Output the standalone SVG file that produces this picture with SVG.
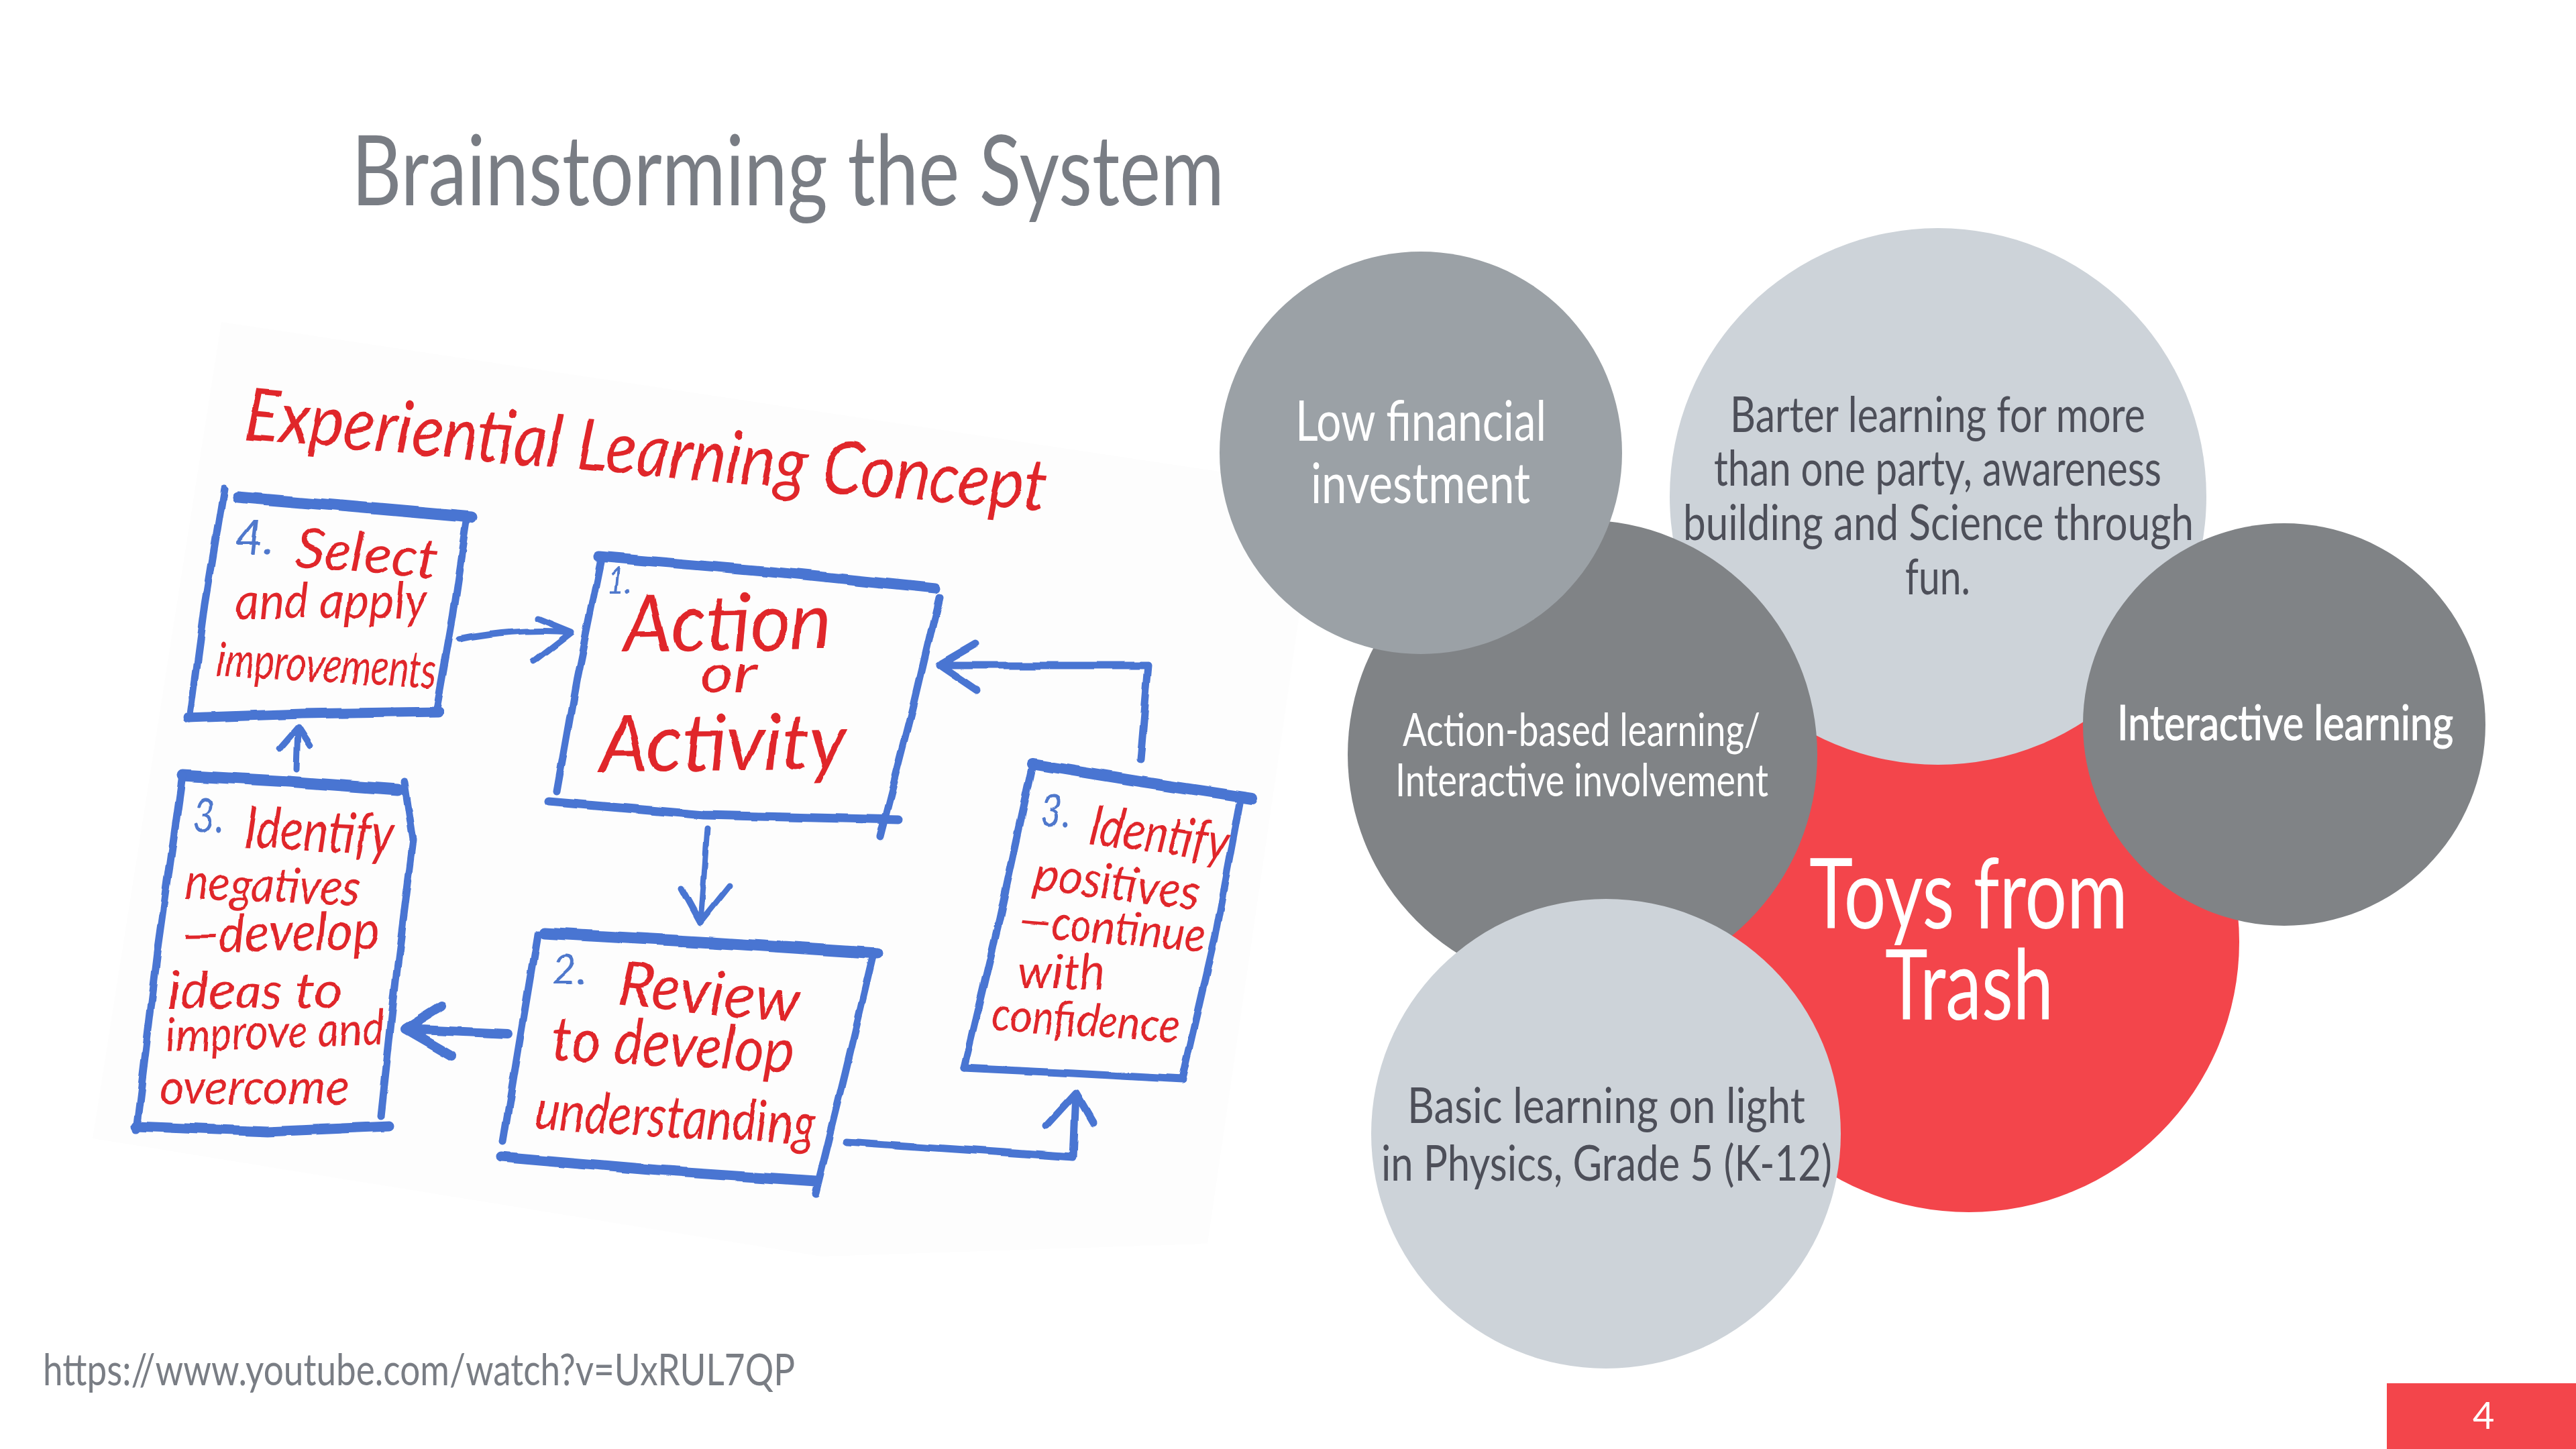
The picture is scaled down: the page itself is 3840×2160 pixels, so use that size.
<svg xmlns="http://www.w3.org/2000/svg" width="3840" height="2160" viewBox="0 0 3840 2160">
<style>
.t{font-family:"Lato","Open Sans","Liberation Sans",sans-serif}
.w{fill:#fff}.d{fill:#4d4f59}
.h{font-family:"Lato","Liberation Sans",sans-serif;font-style:italic;fill:#e0282c}
.n{font-family:"Lato","Liberation Sans",sans-serif;font-style:italic;fill:#4f78cc}
.b{fill:none;stroke:#4a74d2;stroke-linecap:round;stroke-linejoin:round;stroke-width:11}
.c{fill:none;stroke:#4a74d2;stroke-linecap:round;stroke-linejoin:round;stroke-width:9}
</style>
<defs>
<filter id="ink" x="-5%" y="-5%" width="110%" height="110%"><feTurbulence type="fractalNoise" baseFrequency="0.018" numOctaves="2" seed="4"/><feDisplacementMap in="SourceGraphic" scale="7" xChannelSelector="R" yChannelSelector="G"/></filter>
</defs>
<rect width="3840" height="2160" fill="#fff"/>
<text class="t" x="524" y="306" font-size="146" fill="#797d84" textLength="1301" lengthAdjust="spacingAndGlyphs">Brainstorming the System</text>
<polygon points="330,480 1965,725 1800,1854 1225,1873 138,1697" fill="#fdfdfd"/>
<g id="sketch-title" filter="url(#ink)"><text class="h" transform="translate(362 654) rotate(5.2)" font-size="108" textLength="1200" lengthAdjust="spacingAndGlyphs">Experiential Learning Concept</text></g>
<g id="box-select" filter="url(#ink)">
<path class="b" d="M334 728L306 900L283 1072"/><path class="b" style="stroke-width:17" d="M355 741L520 755L703 771"/><path class="b" d="M697 771L675 920L650 1062"/><path class="b" style="stroke-width:15" d="M281 1070L450 1064L654 1061"/>
<text class="n" x="350" y="827" font-size="72">4.</text>
<text class="h" transform="translate(439 844) rotate(5)" font-size="82" textLength="212" lengthAdjust="spacingAndGlyphs">Select</text>
<text class="h" x="350" y="922" font-size="76" textLength="287" lengthAdjust="spacingAndGlyphs">and apply</text>
<text class="h" transform="translate(321 1008) rotate(3)" font-size="74" textLength="330" lengthAdjust="spacingAndGlyphs">improvements</text>
</g>
<g id="box-action" filter="url(#ink)">
<path class="b" style="stroke-width:15" d="M892 830L1150 852L1394 877"/><path class="b" d="M1400 890L1360 1060L1312 1247"/><path class="b" style="stroke-width:13" d="M818 1195L1050 1215L1339 1222"/><path class="b" d="M895 838L860 1010L830 1180"/>
<text class="n" x="904" y="884" font-size="54" textLength="37" lengthAdjust="spacingAndGlyphs">1.</text>
<text class="h" transform="translate(930 972) rotate(-1)" font-size="118" textLength="310" lengthAdjust="spacingAndGlyphs">Action</text>
<text class="h" x="1045" y="1032" font-size="84" textLength="82" lengthAdjust="spacingAndGlyphs">or</text>
<text class="h" transform="translate(894 1150) rotate(-0.5)" font-size="118" textLength="368" lengthAdjust="spacingAndGlyphs">Activity</text>
</g>
<g id="box-review" filter="url(#ink)">
<path class="b" style="stroke-width:17" d="M811 1391L1060 1405L1308 1421"/><path class="b" d="M801 1393L775 1550L750 1702"/><path class="b" d="M1301 1427L1260 1600L1216 1779"/><path class="b" style="stroke-width:15" d="M748 1725L980 1745L1216 1761"/>
<text class="n" x="822" y="1467" font-size="62" textLength="54" lengthAdjust="spacingAndGlyphs">2.</text>
<text class="h" transform="translate(918 1497) rotate(6)" font-size="92" textLength="272" lengthAdjust="spacingAndGlyphs">Review</text>
<text class="h" transform="translate(822 1580) rotate(3)" font-size="92" textLength="360" lengthAdjust="spacingAndGlyphs">to develop</text>
<text class="h" transform="translate(796 1684) rotate(3)" font-size="86" textLength="418" lengthAdjust="spacingAndGlyphs">understanding</text>
</g>
<g id="box-negatives" filter="url(#ink)">
<path class="b" style="stroke-width:17" d="M272 1156L430 1165L593 1177"/><path class="b" d="M272 1156L235 1420L203 1684"/><path class="b" d="M603 1166L616 1253L590 1460L568 1664"/><path class="b" style="stroke-width:15" d="M203 1679L398 1687L581 1679"/>
<text class="n" x="287" y="1240" font-size="72" textLength="46" lengthAdjust="spacingAndGlyphs">3.</text>
<text class="h" transform="translate(363 1263) rotate(3)" font-size="86" textLength="222" lengthAdjust="spacingAndGlyphs">Identify</text>
<text class="h" transform="translate(275 1340) rotate(2)" font-size="72" textLength="260" lengthAdjust="spacingAndGlyphs">negatives</text>
<text class="h" transform="translate(272 1420) rotate(-1)" font-size="80" textLength="294" lengthAdjust="spacingAndGlyphs">—develop</text>
<text class="h" x="250" y="1503" font-size="76" textLength="259" lengthAdjust="spacingAndGlyphs">ideas to</text>
<text class="h" transform="translate(249 1568) rotate(-2)" font-size="72" textLength="325" lengthAdjust="spacingAndGlyphs">improve and</text>
<text class="h" x="237" y="1646" font-size="72" textLength="283" lengthAdjust="spacingAndGlyphs">overcome</text>
</g>
<g id="box-positives" filter="url(#ink)">
<path class="b" style="stroke-width:16" d="M1539 1139L1700 1165L1867 1190"/><path class="b" d="M1539 1145L1490 1370L1437 1592"/><path class="b" d="M1848 1196L1810 1400L1763 1604"/><path class="b" d="M1437 1592L1600 1600L1763 1609"/>
<text class="n" x="1551" y="1231" font-size="64" textLength="46" lengthAdjust="spacingAndGlyphs">3.</text>
<text class="h" transform="translate(1621 1256) rotate(8)" font-size="80" textLength="208" lengthAdjust="spacingAndGlyphs">Identify</text>
<text class="h" transform="translate(1539 1326) rotate(7)" font-size="72" textLength="248" lengthAdjust="spacingAndGlyphs">positives</text>
<text class="h" transform="translate(1518 1395) rotate(5)" font-size="70" textLength="278" lengthAdjust="spacingAndGlyphs">—continue</text>
<text class="h" x="1518" y="1474" font-size="72" textLength="128" lengthAdjust="spacingAndGlyphs">with</text>
<text class="h" transform="translate(1477 1535) rotate(4)" font-size="70" textLength="280" lengthAdjust="spacingAndGlyphs">confidence</text>
</g>
<g id="connectors" filter="url(#ink)">
<path class="c" d="M685 953Q770 936 852 942M803 922L852 942L795 986"/>
<path class="c" d="M442 1146L444 1085M417 1116L444 1085L462 1113"/>
<path class="c" d="M1700 1132L1712 992L1400 992M1455 960L1400 992L1456 1030" style="stroke-width:11"/>
<path class="c" d="M1054 1235L1044 1375M1016 1324L1044 1375L1088 1320"/>
<path class="c" d="M757 1541L604 1534M658 1500L604 1534L673 1574" style="stroke-width:14"/>
<path class="c" d="M1261 1702L1600 1725L1604 1630M1560 1678L1604 1630L1629 1673" style="stroke-width:11"/>
</g>
<g id="node-toys"><circle cx="2935" cy="1404" r="403" fill="#f3454b"/><text class="t w" x="2697" y="1384" font-size="146" textLength="475" lengthAdjust="spacingAndGlyphs">Toys from</text><text class="t w" x="2810" y="1520" font-size="146" textLength="251" lengthAdjust="spacingAndGlyphs">Trash</text></g>
<g id="node-barter"><circle cx="2889" cy="740" r="400" fill="#cdd3d9"/>
<text class="t d" x="2579" y="644" font-size="74" textLength="619" lengthAdjust="spacingAndGlyphs">Barter learning for more</text>
<text class="t d" x="2555" y="724" font-size="74" textLength="667" lengthAdjust="spacingAndGlyphs">than one party, awareness</text>
<text class="t d" x="2509" y="805" font-size="74" textLength="761" lengthAdjust="spacingAndGlyphs">building and Science through</text>
<text class="t d" x="2840" y="886" font-size="74" textLength="97" lengthAdjust="spacingAndGlyphs">fun.</text></g>
<g id="node-action"><circle cx="2359" cy="1125" r="350" fill="#808386"/>
<text class="t w" x="2091" y="1112" font-size="68" textLength="533" lengthAdjust="spacingAndGlyphs">Action-based learning/</text>
<text class="t w" x="2080" y="1187" font-size="68" textLength="556" lengthAdjust="spacingAndGlyphs">Interactive involvement</text></g>
<g id="node-low"><circle cx="2118" cy="675" r="300" fill="#9ba1a6"/>
<text class="t w" x="1931" y="657" font-size="84" textLength="374" lengthAdjust="spacingAndGlyphs">Low financial</text>
<text class="t w" x="1954" y="750" font-size="84" textLength="327" lengthAdjust="spacingAndGlyphs">investment</text></g>
<g id="node-interactive"><circle cx="3405" cy="1080" r="300" fill="#808386"/>
<text class="t w" x="3156" y="1103" font-size="72" stroke="#fff" stroke-width="1.2" textLength="501" lengthAdjust="spacingAndGlyphs">Interactive learning</text></g>
<g id="node-basic"><circle cx="2394" cy="1690" r="350" fill="#cdd3d9"/>
<text class="t d" x="2098" y="1674" font-size="74" textLength="593" lengthAdjust="spacingAndGlyphs">Basic learning on light</text>
<text class="t d" x="2059" y="1760" font-size="74" textLength="672" lengthAdjust="spacingAndGlyphs">in Physics, Grade 5 (K-12)</text></g>
<text class="t" x="64" y="2065" font-size="66" fill="#797d84" textLength="1121" lengthAdjust="spacingAndGlyphs">https://www.youtube.com/watch?v=UxRUL7QP</text>
<rect x="3558" y="2062" width="282" height="98" fill="#f3454b"/>
<text class="t w" x="3686" y="2130" font-size="56">4</text>
</svg>
